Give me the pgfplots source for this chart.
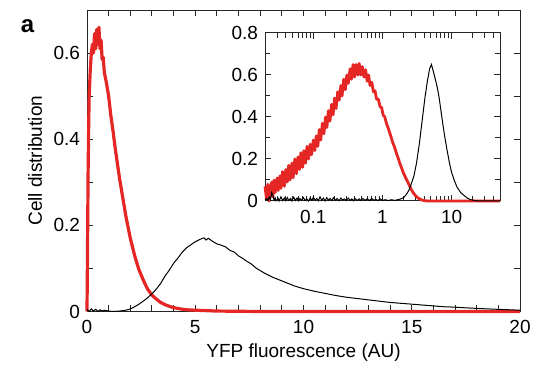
\documentclass[border=0pt]{standalone}
\usepackage{pgfplots}
\pgfplotsset{compat=1.18}
\usepackage{fontspec}
\setmainfont{Liberation Sans}
\definecolor{myred}{RGB}{228,38,36}
\pgfplotsset{
  every axis/.append style={font=\fontsize{9.5}{11}\selectfont, /pgf/number format/assume math mode=true},
  every axis label/.append style={font=\fontsize{9.5}{11}\selectfont},
  every tick label/.append style={font=\fontsize{9.5}{11}\selectfont},
}
\begin{document}
\begin{tikzpicture}[x=1pt,y=1pt]
\useasboundingbox (0,0) rectangle (266.5,183.5);
\begin{axis}[
  at={(43.5pt,27.75pt)}, anchor=south west,
  width=216.5pt, height=150.75pt, scale only axis,
  xmin=0, xmax=20, ymin=0, ymax=0.7,
  xtick={0,5,10,15,20}, minor xtick={1,2,3,4,6,7,8,9,11,12,13,14,16,17,18,19},
  ytick={0,0.2,0.4,0.6}, minor ytick={0.1,0.3,0.5},
  yticklabels={0,0.2,0.4,0.6},
  tick align=inside, major tick length=3pt, minor tick length=3pt,
  axis line style={line width=0.5pt, black!85},
  tick style={line width=0.5pt, black!85},
  xticklabel style={yshift=-1pt},
  xlabel={YFP fluorescence (AU)},
  ylabel={Cell distribution},
  xlabel style={at={(axis description cs:0.5,-0.1376)}, anchor=center},
  ylabel style={at={(axis description cs:-0.1201,0.5)}, anchor=center},
  clip=false,
]
\addplot[myred, line width=1.6pt, line join=round] coordinates {
(0,0) (0.02,0.12) (0.05,0.32) (0.08,0.44) (0.1,0.50) (0.15,0.56) (0.2,0.60)
(0.25,0.62) (0.3,0.60) (0.35,0.645) (0.4,0.61) (0.45,0.655) (0.5,0.62) (0.55,0.66)
(0.6,0.61) (0.65,0.63) (0.7,0.585) (0.75,0.59) (0.8,0.555) (0.9,0.53) (1.0,0.50)
(1.1,0.455) (1.2,0.42) (1.3,0.38) (1.4,0.345) (1.5,0.31) (1.6,0.28) (1.7,0.25)
(1.8,0.22) (1.9,0.195) (2.0,0.17) (2.1,0.15) (2.2,0.13) (2.3,0.113) (2.4,0.097)
(2.5,0.085) (2.6,0.073) (2.7,0.062) (2.8,0.052) (2.9,0.045) (3.0,0.038)
(3.2,0.029) (3.4,0.021) (3.6,0.016) (3.8,0.012) (4.0,0.009) (4.3,0.006)
(4.6,0.004) (5,0.003) (6,0.001) (7,0.0005) (8,0) (20,0)
};
\addplot[black, line width=0.5pt] coordinates {
(0,0.005) (0.1,0.0) (0.2,0.006) (0.3,0.001) (0.4,0.005) (0.5,0.0) (0.6,0.004)
(0.7,0.001) (0.8,0.003) (1.0,0.001) (1.2,0.0) (1.5,0.001) (1.8,0.003) (2.0,0.006)
(2.2,0.011) (2.4,0.017) (2.6,0.024) (2.8,0.032) (3.0,0.041) (3.2,0.052) (3.4,0.065)
(3.6,0.082) (3.8,0.096) (4.0,0.112) (4.2,0.124) (4.4,0.138) (4.6,0.148) (4.8,0.155)
(5.0,0.162) (5.2,0.167) (5.4,0.171) (5.5,0.166) (5.6,0.170) (5.8,0.163) (6.0,0.157)
(6.2,0.154) (6.4,0.150) (6.6,0.142) (6.8,0.138) (7.0,0.129) (7.2,0.123) (7.4,0.116)
(7.6,0.110) (7.8,0.101) (8.0,0.095) (8.2,0.089) (8.4,0.084) (8.6,0.079) (8.8,0.075)
(9.0,0.071) (9.2,0.067) (9.4,0.063) (9.6,0.059) (9.8,0.056) (10,0.053) (10.5,0.047)
(11,0.042) (11.5,0.037) (12,0.033) (12.5,0.030) (13,0.027) (13.5,0.024) (14,0.021)
(14.5,0.019) (15,0.017) (15.5,0.015) (16,0.013) (16.5,0.011) (17,0.010) (17.5,0.0085)
(18,0.0072) (18.5,0.006) (19,0.005) (19.5,0.004) (20,0.003)
};
\end{axis}

\begin{axis}[
  at={(132.5pt,83pt)}, anchor=south west,
  width=117.5pt, height=84pt, scale only axis,
  xmode=log, xmin=0.02, xmax=50, ymin=0, ymax=0.8,
  xtick={0.1,1,10}, xticklabels={0.1,1,10},
  minor xtick={0.02,0.03,0.04,0.05,0.06,0.07,0.08,0.09,0.2,0.3,0.4,0.5,0.6,0.7,0.8,0.9,2,3,4,5,6,7,8,9,20,30,40},
  ytick={0,0.2,0.4,0.6,0.8}, yticklabels={0,0.2,0.4,0.6,0.8},
  minor ytick={0.1,0.3,0.5,0.7},
  tick align=inside, major tick length=3pt, minor tick length=2.5pt,
  axis line style={line width=0.5pt, black!85},
  tick style={line width=0.5pt, black!85},
  xticklabel style={yshift=-1.2pt},
  axis background/.style={fill=white},
  clip=false,
]
\addplot[myred, line width=1.4pt, line join=round] coordinates {
(0.020,0.07) (0.021,0.01) (0.022,0.08) (0.023,0.00) (0.024,0.06) (0.025,0.09)
(0.026,0.02) (0.027,0.10) (0.028,0.04) (0.030,0.11) (0.031,0.05) (0.033,0.12)
(0.034,0.06) (0.036,0.14) (0.038,0.07) (0.040,0.15) (0.042,0.09) (0.044,0.17)
(0.046,0.10) (0.049,0.18) (0.051,0.11) (0.054,0.20) (0.057,0.13) (0.060,0.21)
(0.063,0.15) (0.066,0.23) (0.070,0.16) (0.073,0.24) (0.077,0.18) (0.081,0.26)
(0.085,0.20) (0.090,0.27) (0.094,0.22) (0.10,0.29) (0.105,0.24) (0.11,0.31)
(0.116,0.26) (0.122,0.34) (0.128,0.29) (0.135,0.37) (0.142,0.32) (0.15,0.40)
(0.157,0.35) (0.165,0.43) (0.174,0.38) (0.183,0.46) (0.193,0.41) (0.203,0.49)
(0.213,0.44) (0.225,0.52) (0.236,0.48) (0.25,0.55) (0.26,0.50) (0.275,0.58)
(0.29,0.53) (0.305,0.60) (0.32,0.56) (0.34,0.63) (0.355,0.58) (0.375,0.65)
(0.395,0.59) (0.415,0.65) (0.44,0.60) (0.46,0.655) (0.485,0.60) (0.51,0.64)
(0.54,0.59) (0.57,0.625) (0.60,0.57) (0.63,0.60) (0.66,0.55) (0.70,0.565)
(0.74,0.52) (0.78,0.525) (0.82,0.485) (0.87,0.485) (0.92,0.45) (0.97,0.445)
(1.02,0.41) (1.08,0.40) (1.14,0.37) (1.2,0.35) (1.3,0.315) (1.4,0.28)
(1.5,0.255) (1.6,0.225) (1.7,0.20) (1.8,0.175) (1.9,0.155) (2.0,0.135)
(2.2,0.105) (2.4,0.08) (2.6,0.055) (2.8,0.038) (3.0,0.025) (3.3,0.013)
(3.6,0.006) (4.0,0.002) (4.5,0) (50,0)
};
\addplot[black, line width=0.5pt] coordinates {
(0.020,0.004) (0.021,0.012) (0.022,0.002) (0.023,0.018) (0.024,0.006) (0.025,0.040)
(0.026,0.028) (0.027,0.004) (0.028,0.015) (0.029,0.001) (0.031,0.012) (0.032,0.000)
(0.034,0.020) (0.036,0.002) (0.038,0.014) (0.040,0.001) (0.042,0.016) (0.044,0.003)
(0.047,0.012) (0.049,0.000) (0.052,0.018) (0.055,0.002) (0.058,0.014) (0.061,0.001)
(0.064,0.012) (0.068,0.003) (0.072,0.016) (0.076,0.002) (0.080,0.010) (0.085,0.000)
(0.090,0.014) (0.095,0.003) (0.10,0.018) (0.106,0.004) (0.112,0.012) (0.118,0.001)
(0.125,0.020) (0.132,0.003) (0.14,0.014) (0.148,0.000) (0.156,0.016) (0.165,0.004)
(0.175,0.012) (0.185,0.002) (0.195,0.015) (0.21,0.003) (0.22,0.012) (0.235,0.001)
(0.25,0.014) (0.265,0.004) (0.28,0.010) (0.30,0.002) (0.32,0.014) (0.34,0.003)
(0.36,0.010) (0.38,0.001) (0.40,0.012) (0.43,0.003) (0.46,0.010) (0.49,0.002)
(0.52,0.012) (0.56,0.003) (0.60,0.010) (0.65,0.002) (0.70,0.012) (0.75,0.003)
(0.80,0.008) (0.86,0.002) (0.92,0.010) (1.0,0.003) (1.1,0.006) (1.2,0.002)
(1.35,0.006) (1.5,0.003) (1.65,0.006) (1.8,0.009) (2.0,0.015) (2.2,0.03)
(2.4,0.05) (2.6,0.08) (2.85,0.12) (3.1,0.18) (3.4,0.27) (3.8,0.40) (4.1,0.49)
(4.45,0.57) (4.8,0.63) (5.1,0.65) (5.4,0.62) (5.8,0.58) (6.2,0.54) (6.6,0.49)
(7.0,0.43) (7.5,0.36) (8.0,0.30) (8.6,0.24) (9.3,0.18) (10,0.135) (11,0.095)
(12,0.065) (13.5,0.04) (15,0.027) (17,0.013) (19,0.006) (22,0.002) (25,0) (50,0)
};
\end{axis}
\node[font=\fontsize{12}{14}\selectfont\bfseries] at (13.75,170.5) {a};
\end{tikzpicture}
\end{document}
